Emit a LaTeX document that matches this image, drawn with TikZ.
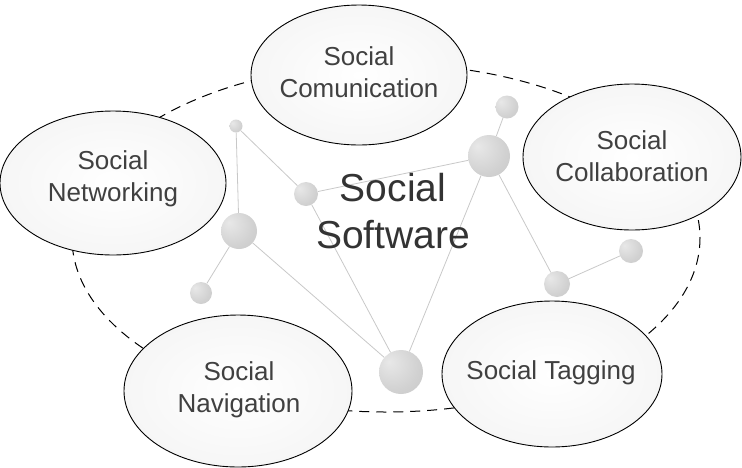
\documentclass[tikz,border=0pt]{standalone}
\usepackage{fontspec}
\setmainfont{Liberation Sans}
\usetikzlibrary{shapes.geometric}
\definecolor{cinzaTexto}{RGB}{64, 64, 64}
\definecolor{cinzaLinha}{RGB}{200, 200, 200}
\pgfdeclareradialshading{bolaCinza}{\pgfpoint{-14bp}{12bp}}{%
  color(0bp)=(gray!18); color(28bp)=(gray!36); color(58bp)=(gray!50); color(72bp)=(gray!58)}
\tikzset{
  bolha/.style={
    draw=black, ellipse, line width=0.9pt, inner sep=0pt,
    inner color=white, outer color=gray!7
  },
  rotulo/.style={font=\fontsize{26}{32}\selectfont, text=cinzaTexto, align=center},
  titulo/.style={font=\fontsize{39}{47}\selectfont, text=black!80, align=center},
  esfera/.style={circle, inner sep=0pt, shading=bolaCinza},
  ligacao/.style={draw=cinzaLinha, line width=0.8pt},
  contorno/.style={dash pattern=on 10pt off 7pt, line width=1pt},
}
\begin{document}
\begin{tikzpicture}[x=1pt, y=-1pt]

\useasboundingbox (0,0) rectangle (742,467);

\draw[contorno] (386,238) ellipse [x radius=314, y radius=174];

\node[esfera, minimum size=13pt] (s1) at (236,126) {};
\node[esfera, minimum size=24pt] (s2) at (306,194) {};
\node[esfera, minimum size=36pt] (s3) at (239,231) {};
\node[esfera, minimum size=22pt] (s4) at (201,293) {};
\node[esfera, minimum size=44pt] (s5) at (401,372) {};
\node[esfera, minimum size=42pt] (s6) at (489,156) {};
\node[esfera, minimum size=23pt] (s7) at (507,107) {};
\node[esfera, minimum size=26pt] (s8) at (557,284) {};
\node[esfera, minimum size=24pt] (s9) at (631,251) {};

\draw[ligacao] (s1) -- (s3);
\draw[ligacao] (s1) -- (s2);
\draw[ligacao] (s2) -- (s6);
\draw[ligacao] (s2) -- (s5);
\draw[ligacao] (s3) -- (s4);
\draw[ligacao] (s3) -- (s5);
\draw[ligacao] (s5) -- (s6);
\draw[ligacao] (s6) -- (s7);
\draw[ligacao] (s6) -- (s8);
\draw[ligacao] (s8) -- (s9);

\node[bolha, minimum width=216pt, minimum height=140pt] (com) at (359,75) {};
\node[bolha, minimum width=226pt, minimum height=144pt] (net) at (113,183) {};
\node[bolha, minimum width=218pt, minimum height=146pt] (col) at (632,157) {};
\node[bolha, minimum width=228pt, minimum height=152pt] (nav) at (238,391) {};
\node[bolha, minimum width=220pt, minimum height=146pt] (tag) at (552,374) {};

\node[rotulo] (comTxt) at (359,72) {Social\\Comunication};
\node[rotulo] (netTxt) at (113,179) {Social\\Networking};
\node[rotulo] (colTxt) at (632,156) {Social\\Collaboration};
\node[rotulo] (navTxt) at (239,390) {Social\\Navigation};
\node[rotulo] (tagTxt) at (551,373) {Social Tagging};

\node[titulo] (centro) at (393,211) {Social\\Software};

\end{tikzpicture}
\end{document}
